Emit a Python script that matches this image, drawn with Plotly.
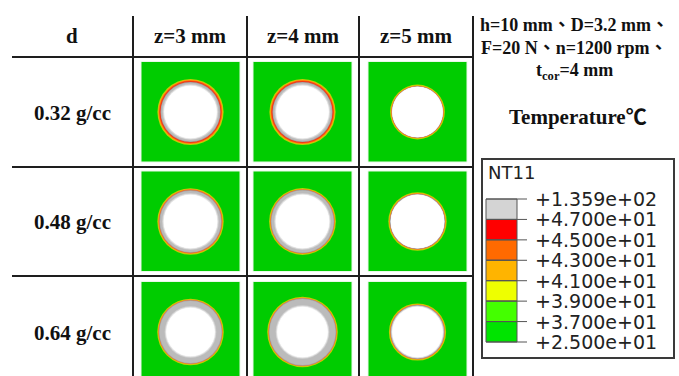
import plotly.graph_objects as go

# ---------------- data ----------------
densities = ["0.32 g/cc", "0.48 g/cc", "0.64 g/cc"]
depths = ["z=3 mm", "z=4 mm", "z=5 mm"]
# ring radii per cell (rows = density, cols = depth), in specimen-image units (square side = 100)
hole_r = [[26.0, 26.0, 25.0],
          [26.5, 26.5, 26.5],
          [24.0, 25.0, 25.0]]
gray_outer_r = [[30.0, 30.0, 25.8],
                [31.2, 31.7, 27.6],
                [31.7, 33.7, 27.0]]
heat_outer_r = [[32.3, 32.3, 26.6],
                [32.4, 32.6, 28.4],
                [32.5, 34.5, 27.8]]
legend_labels = ["+1.359e+02", "+4.700e+01", "+4.500e+01", "+4.300e+01",
                 "+4.100e+01", "+3.900e+01", "+3.700e+01", "+2.500e+01"]
legend_colors = ["#d4d4d4", "#ff0000", "#ff6a00", "#ffb400",
                 "#eeff00", "#44ff00", "#00e400"]
params_text = ["h=10 mm、D=3.2 mm、", "F=20 N、n=1200 rpm、", "t<sub>cor</sub>=4 mm"]
title_text = "Temperature℃"
legend_title = "NT11"

# ---------------- layout constants ----------------
W, H = 679, 376
col_x = [190.5, 302.5, 417.5]
row_y = [112.0, 221.5, 332.0]
vlines = [133, 247, 359, 473]
hlines = [57, 167, 276]
scale = 1.0  # px per specimen unit
GREEN = "#00cc00"
LINE = "#1e1e1e"
serif = "Liberation Serif"
cjk = "Noto Sans CJK TC"

shapes = []
annotations = []


def circ(cx, cy, r, color):
    shapes.append(dict(type="circle", xref="x", yref="y",
                       x0=cx - r, x1=cx + r, y0=cy - r, y1=cy + r,
                       fillcolor=color, line=dict(width=0), layer="above"))


def mix(c1, c2, t):
    a = [int(c1[i:i + 2], 16) for i in (1, 3, 5)]
    b = [int(c2[i:i + 2], 16) for i in (1, 3, 5)]
    return "#%02x%02x%02x" % tuple(round(a[k] + (b[k] - a[k]) * t) for k in range(3))


# cells
for i, yc in enumerate(row_y):
    for j, xc in enumerate(col_x):
        shapes.append(dict(type="rect", xref="x", yref="y",
                           x0=xc - 49.5, x1=xc + 49.5, y0=yc - 50.5, y1=yc + 50.0,
                           fillcolor=GREEN, line=dict(color="#e8f8e8", width=1), layer="above"))
        ro = heat_outer_r[i][j] * scale
        rg = gray_outer_r[i][j] * scale
        rh = hole_r[i][j] * scale
        circ(xc, yc, ro + 0.8, "#b8d400")
        circ(xc, yc, ro, "#ff9a10")
        if ro - rg > 1.5:
            circ(xc, yc, ro - 0.7, "#ff5a10")
            circ(xc, yc, ro - 1.4, "#f03818")
        else:
            circ(xc, yc, ro - 0.5, "#e86a30")
        # gray zone with darker outer edge and soft inner edge toward the hole
        circ(xc, yc, rg, "#a4a4a4")
        circ(xc, yc, rg - 0.7, "#bbbbbb")
        soft = min(2.0, max(rg - 0.7 - rh, 0.3))
        steps = 6
        for k in range(steps + 1):
            t = k / steps
            r = rh + soft * (1 - t)
            circ(xc, yc, r, mix("#bbbbbb", "#ffffff", 0.15 + 0.85 * t))
        circ(xc, yc, rh, "#ffffff")

# grid lines
for x in vlines:
    shapes.append(dict(type="line", xref="x", yref="y", x0=x, x1=x, y0=16, y1=H,
                       line=dict(color=LINE, width=2), layer="above"))
for y in hlines:
    shapes.append(dict(type="line", xref="x", yref="y", x0=12, x1=vlines[-1], y0=y, y1=y,
                       line=dict(color=LINE, width=2), layer="above"))

# header and row labels
hdr_font = dict(family=serif, size=21, color="#111", weight="bold")
annotations.append(dict(x=72, y=36, text="d", showarrow=False, xref="x", yref="y", font=hdr_font))
for j in range(len(depths)):
    annotations.append(dict(x=(vlines[j] + vlines[j + 1]) / 2, y=36, text=depths[j], showarrow=False,
                            xref="x", yref="y", font=hdr_font))
for i, yc in enumerate(row_y):
    annotations.append(dict(x=72, y=yc + 0.5, text=densities[i], showarrow=False, xref="x", yref="y",
                            font=hdr_font))

# parameter text
for t, y in zip(params_text, [25, 48, 71]):
    annotations.append(dict(x=574, y=y, text=t, showarrow=False, xref="x", yref="y",
                            font=dict(family=serif + ", " + cjk, size=18, color="#111", weight="bold")))
annotations.append(dict(x=578, y=117, text=title_text, showarrow=False, xref="x", yref="y",
                        font=dict(family=serif + ", " + cjk, size=21, color="#111", weight="bold")))

# legend box
shapes.append(dict(type="rect", xref="x", yref="y", x0=482, x1=674, y0=159, y1=358,
                   fillcolor="white", line=dict(color="#3a3a3a", width=2), layer="above"))
annotations.append(dict(x=486, y=172, text=legend_title, showarrow=False, xanchor="left",
                        xref="x", yref="y", font=dict(family="DejaVu Sans", size=18, color="#222")))
bar_top, bar_bot = 199.0, 342.0
bh = (bar_bot - bar_top) / len(legend_colors)
for k, c in enumerate(legend_colors):
    shapes.append(dict(type="rect", xref="x", yref="y", x0=486, x1=517,
                       y0=bar_top + k * bh, y1=bar_top + (k + 1) * bh,
                       fillcolor=c, line=dict(color="#555", width=1), layer="above"))
for k, lab in enumerate(legend_labels):
    y = bar_top + k * bh
    shapes.append(dict(type="line", xref="x", yref="y", x0=486, x1=527, y0=y, y1=y,
                       line=dict(color="#555", width=1), layer="above"))
    annotations.append(dict(x=533, y=y, text=lab, showarrow=False, xanchor="left",
                            xref="x", yref="y", font=dict(family="DejaVu Sans", size=19, color="#222")))

fig = go.Figure()
fig.add_trace(go.Scatter(x=[0, W], y=[0, H], mode="markers", marker=dict(opacity=0),
                         hoverinfo="skip", showlegend=False))
fig.update_layout(width=W, height=H, margin=dict(l=0, r=0, t=0, b=0),
                  paper_bgcolor="white", plot_bgcolor="white",
                  xaxis=dict(range=[0, W], visible=False, fixedrange=True),
                  yaxis=dict(range=[H, 0], visible=False, fixedrange=True),
                  shapes=shapes, annotations=annotations, showlegend=False)
fig.write_html("out.html", config={"displayModeBar": False},
               post_script="document.body.style.margin='0';document.body.style.overflow='hidden';")
